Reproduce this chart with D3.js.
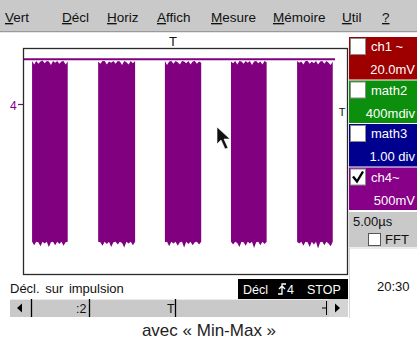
<!DOCTYPE html>
<html>
<head>
<meta charset="utf-8">
<script src="https://cdn.jsdelivr.net/npm/d3@7"></script>
<style>
  body { margin: 0; background: #fff; }
  svg { display: block; font-family: "Liberation Sans", Arial, sans-serif; }
</style>
</head>
<body>
<div id="scope"></div>
<script>
// menu entries (first letter underlined)
var menuItems = ['Vert', 'Décl', 'Horiz', 'Affich', 'Mesure', 'Mémoire', 'Util', '?'];
var menuX = [5, 62, 107, 157, 211, 273, 342, 382];

// channel buttons
var chanNames = ['ch1 ~', 'math2', 'math3', 'ch4~'];
var chanScales = ['20.0mV', '400mdiv', '1.00 div', '500mV'];
var chanColors = ['#9e0000', '#0c8f0c', '#00008f', '#880088'];
var chanChecked = [false, false, false, true];

var restLevel = 0.8;
var burstStart = [1.4, 11.6, 21.9, 32.1, 42.3];
var burstEnd = [6.9, 17.3, 27.5, 37.6, 47.8];
var burstTop = [
  [0.77, 0.71, 0.77, 0.72, 0.76, 0.78, 0.73, 0.77, 0.76, 0.70, 0.77, 0.74, 0.77, 0.72, 0.76, 0.77, 0.71, 0.76],
  [0.76, 0.72, 0.77, 0.77, 0.71, 0.76, 0.74, 0.77, 0.72, 0.77, 0.76, 0.70, 0.77, 0.75, 0.71, 0.77, 0.73, 0.77],
  [0.77, 0.70, 0.76, 0.77, 0.72, 0.77, 0.75, 0.71, 0.77, 0.76, 0.73, 0.77, 0.71, 0.76, 0.77, 0.72, 0.76, 0.74],
  [0.76, 0.73, 0.77, 0.71, 0.77, 0.76, 0.72, 0.77, 0.74, 0.77, 0.70, 0.76, 0.77, 0.73, 0.76, 0.71, 0.77, 0.75],
  [0.77, 0.74, 0.76, 0.71, 0.77, 0.77, 0.72, 0.76, 0.73, 0.77, 0.71, 0.76, 0.77, 0.72, 0.77, 0.74, 0.70, 0.76]
];
var burstBottom = [
  [-2.43, -2.49, -2.43, -2.44, -2.51, -2.43, -2.46, -2.43, -2.52, -2.44, -2.43, -2.49, -2.43, -2.47, -2.43, -2.50, -2.44, -2.43],
  [-2.43, -2.44, -2.50, -2.43, -2.47, -2.43, -2.52, -2.44, -2.43, -2.48, -2.43, -2.45, -2.53, -2.43, -2.46, -2.43, -2.49, -2.43],
  [-2.44, -2.43, -2.51, -2.43, -2.46, -2.43, -2.50, -2.44, -2.43, -2.53, -2.43, -2.47, -2.43, -2.49, -2.44, -2.43, -2.48, -2.43],
  [-2.43, -2.48, -2.43, -2.45, -2.52, -2.43, -2.44, -2.50, -2.43, -2.46, -2.43, -2.54, -2.44, -2.43, -2.49, -2.43, -2.47, -2.43],
  [-2.43, -2.46, -2.43, -2.50, -2.43, -2.44, -2.52, -2.43, -2.48, -2.43, -2.55, -2.44, -2.43, -2.49, -2.43, -2.46, -2.51, -2.43]
];

var W = 417, H = 340;
var plot = {left: 23, top: 48, right: 347, bottom: 274};

var svg = d3.select('#scope').append('svg')
  .attr('width', W)
  .attr('height', H);

/// menu bar
svg.append('rect').attr('x', 0).attr('y', 0).attr('width', W).attr('height', 31).attr('fill', '#c9c9c9');
svg.append('line').attr('x1', 0).attr('x2', W).attr('y1', 31.5).attr('y2', 31.5).attr('stroke', '#9a9a9a');
svg.append('line').attr('x1', 0).attr('x2', W).attr('y1', 32.5).attr('y2', 32.5).attr('stroke', '#e6e6e6');

var menu = svg.selectAll('.menu')
  .data(menuItems)
  .enter().append('text')
  .attr('class', 'menu')
  .attr('x', function(d, i) { return menuX[i]; })
  .attr('y', 22)
  .style('font-size', '13.5px')
  .attr('fill', '#111');
menu.append('tspan').style('text-decoration', 'underline').text(function(d) { return d.charAt(0); });
menu.append('tspan').text(function(d) { return d.slice(1); });

/// scales
var x = d3.scaleLinear().domain([0, 50]).range([plot.left, plot.right]);
var y = d3.scaleLinear().domain([-3, 1]).range([plot.bottom, plot.top]);

// trace at rest level
svg.append('line')
  .attr('x1', x(0) + 1).attr('x2', x(50) - 12)
  .attr('y1', y(restLevel)).attr('y2', y(restLevel))
  .attr('stroke', '#800080').attr('stroke-width', 2);

var bursts = burstStart.map(function(s, i) {
  var n = burstTop[i].length, step = (burstEnd[i] - s) / (n - 1);
  return burstTop[i].map(function(t, j) { return {t: s + j * step, hi: t, lo: burstBottom[i][j]}; });
});

var area = d3.area()
  .x(function(d) { return x(d.t); })
  .y0(function(d) { return y(d.lo); })
  .y1(function(d) { return y(d.hi); });

svg.append('g').selectAll('path')
  .data(bursts)
  .enter().append('path')
  .attr('d', area)
  .attr('fill', '#800080');

// frame
svg.append('rect')
  .attr('x', plot.left + 0.5).attr('y', plot.top + 0.5)
  .attr('width', plot.right - plot.left).attr('height', plot.bottom - plot.top)
  .attr('fill', 'none').attr('stroke', '#2a2a2a').attr('stroke-width', 1.3);

// markers
svg.append('text').attr('x', 10).attr('y', 110).text('4')
  .attr('fill', '#800080').style('font-size', '12px');
svg.append('line').attr('x1', 18).attr('x2', plot.left).attr('y1', y(0)).attr('y2', y(0))
  .attr('stroke', '#800080').attr('stroke-width', 1.2);
svg.append('text').attr('x', 173).attr('y', 46).attr('text-anchor', 'middle').text('T')
  .style('font-size', '13px').attr('fill', '#111');
svg.append('text').attr('x', 342).attr('y', 116).attr('text-anchor', 'middle').text('T')
  .style('font-size', '11px').attr('fill', '#111');

// mouse pointer
svg.append('path')
  .attr('d', 'M217,127 L217,144 L221,140 L225,149 L228,148 L224,139 L230,139 Z')
  .attr('fill', '#111').attr('stroke', '#fff').attr('stroke-width', 0.6);

/// channel panel
var chan = svg.selectAll('.chan')
  .data(chanNames)
  .enter().append('g')
  .attr('class', 'chan')
  .attr('transform', function(d, i) { return 'translate(349,' + (37 + i * 43.5) + ')'; });

chan.append('rect').attr('width', 68).attr('height', 42.5)
  .attr('fill', function(d, i) { return chanColors[i]; });
chan.append('rect').attr('x', 1.5).attr('y', 1.5).attr('width', 15).attr('height', 16)
  .attr('fill', '#fff').attr('stroke', '#8a8a8a').attr('stroke-width', 1);
chan.filter(function(d, i) { return chanChecked[i]; }).append('path')
  .attr('d', 'M4,9 L8,14 L14,4').attr('fill', 'none').attr('stroke', '#000').attr('stroke-width', 2.4);
chan.append('text').attr('x', 22).attr('y', 14).text(function(d) { return d; })
  .attr('fill', '#fff').style('font-size', '13px');
chan.append('text').attr('x', 66).attr('y', 37).attr('text-anchor', 'end')
  .text(function(d, i) { return chanScales[i]; })
  .attr('fill', '#fff').style('font-size', '13px');

// timebase box
svg.append('rect').attr('x', 349).attr('y', 212).attr('width', 68).attr('height', 35).attr('fill', '#c9c9c9');
svg.append('text').attr('x', 353).attr('y', 226).text('5.00µs').style('font-size', '13px').attr('fill', '#111');
svg.append('rect').attr('x', 368.5).attr('y', 233.5).attr('width', 12).attr('height', 12)
  .attr('fill', '#fff').attr('stroke', '#555');
svg.append('text').attr('x', 385).attr('y', 244).text('FFT').style('font-size', '13px').attr('fill', '#111');
svg.append('line').attr('x1', 349).attr('x2', W).attr('y1', 248).attr('y2', 248).attr('stroke', '#d8d8d8');
svg.append('line').attr('x1', 349.5).attr('x2', 349.5).attr('y1', 248).attr('y2', 318).attr('stroke', '#d8d8d8');
svg.append('text').attr('x', 377).attr('y', 291).text('20:30').style('font-size', '13px').attr('fill', '#111');

/// status line
svg.append('text').attr('x', 10).attr('y', 293).text('Décl. sur impulsion')
  .style('font-size', '13px').style('word-spacing', '2px').attr('fill', '#111');
svg.append('rect').attr('x', 238).attr('y', 279).attr('width', 110).attr('height', 20).attr('fill', '#000');
svg.append('text').attr('x', 243).attr('y', 294).text('Décl').attr('fill', '#fff').style('font-size', '12.5px');
svg.append('path').attr('d', 'M278,294 L282,294 L282,284 L286,284 M279,289 L282,286 L285,289')
  .attr('fill', 'none').attr('stroke', '#fff').attr('stroke-width', 1.3);
svg.append('text').attr('x', 287).attr('y', 294).text('4').attr('fill', '#fff').style('font-size', '12.5px');
svg.append('text').attr('x', 307).attr('y', 294).text('STOP').attr('fill', '#fff').style('font-size', '12.5px');

/// scrollbar
svg.append('rect').attr('x', 10).attr('y', 299).attr('width', 338).attr('height', 18).attr('fill', '#c9c9c9');
svg.append('line').attr('x1', 10).attr('x2', 348).attr('y1', 299.5).attr('y2', 299.5).attr('stroke', '#ececec');
svg.append('path').attr('d', 'M17,308 L22,303.5 L22,312.5 Z').attr('fill', '#000');
svg.append('line').attr('x1', 31.5).attr('x2', 31.5).attr('y1', 299).attr('y2', 317).attr('stroke', '#000').attr('stroke-width', 1.3);
svg.append('text').attr('x', 76).attr('y', 313).text(':2').style('font-size', '12.5px').attr('fill', '#111');
svg.append('line').attr('x1', 89.5).attr('x2', 89.5).attr('y1', 299).attr('y2', 317).attr('stroke', '#000').attr('stroke-width', 1.3);
svg.append('text').attr('x', 167).attr('y', 313).text('T').style('font-size', '12.5px').attr('fill', '#111');
svg.append('line').attr('x1', 175.5).attr('x2', 175.5).attr('y1', 299).attr('y2', 317).attr('stroke', '#000').attr('stroke-width', 1.3);
svg.append('line').attr('x1', 322).attr('x2', 326).attr('y1', 308).attr('y2', 308).attr('stroke', '#000');
svg.append('line').attr('x1', 326.5).attr('x2', 326.5).attr('y1', 301).attr('y2', 315).attr('stroke', '#000');
svg.append('rect').attr('x', 329).attr('y', 299).attr('width', 19).attr('height', 18).attr('fill', '#d4d4d4');
svg.append('path').attr('d', 'M340,308 L335,303.5 L335,312.5 Z').attr('fill', '#000');

/// caption
svg.append('text').attr('x', 209).attr('y', 336).attr('text-anchor', 'middle')
  .text('avec « Min-Max »').style('font-size', '17px').attr('fill', '#222');
</script>
</body>
</html>
